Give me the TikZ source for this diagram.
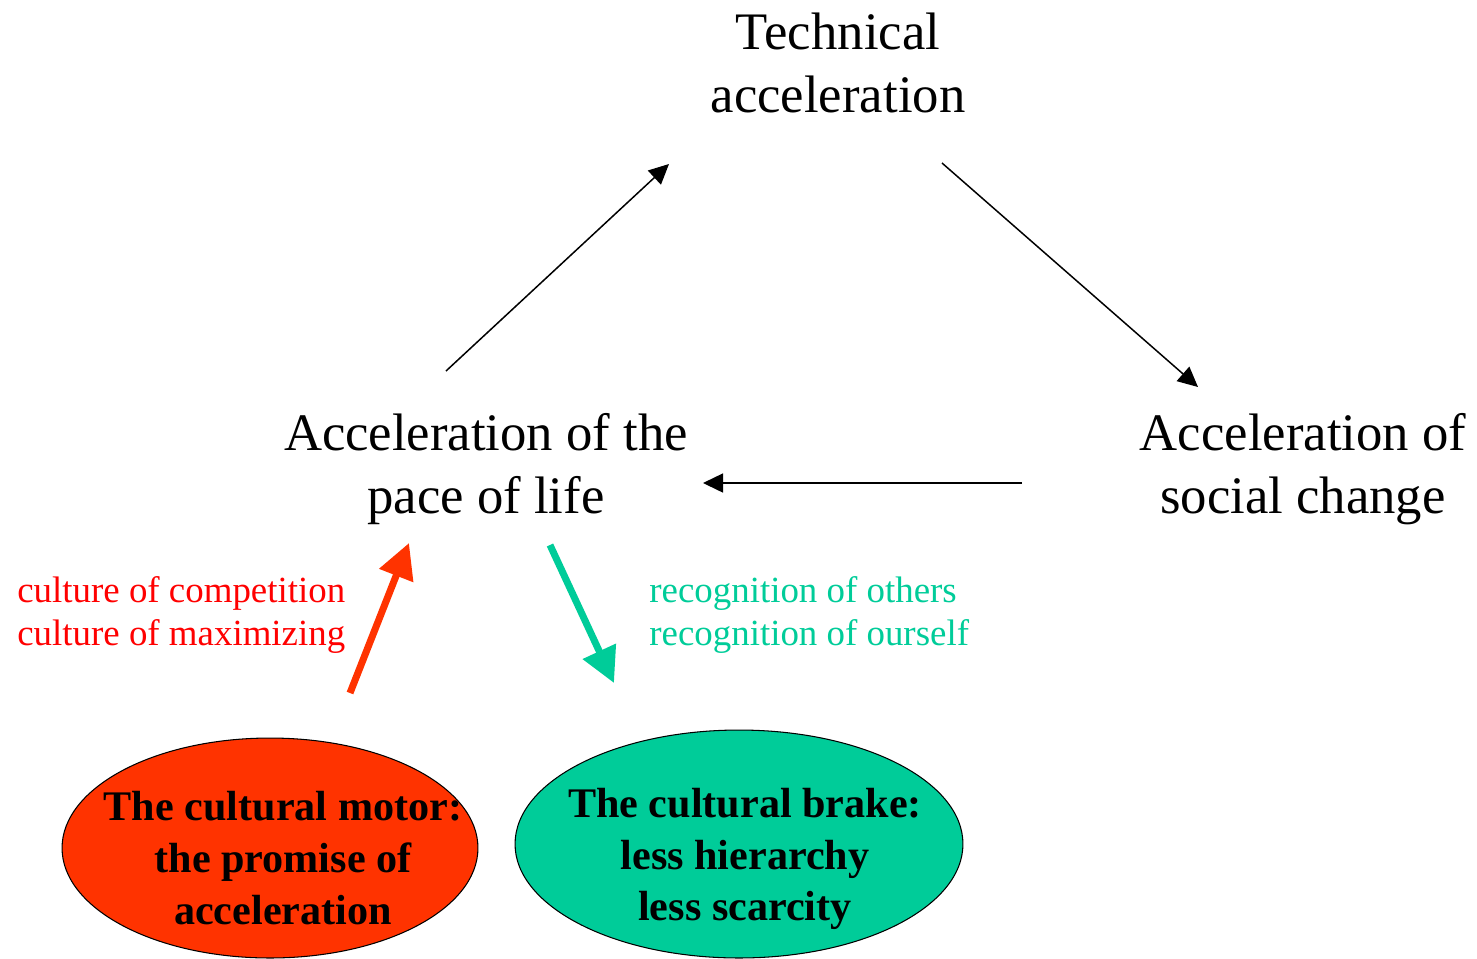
\documentclass[tikz,border=0pt]{standalone}
\usepackage{fontspec}
\setmainfont{Liberation Serif}
\usetikzlibrary{arrows.meta,shapes.geometric}
\definecolor{motorred}{HTML}{FF3300}
\definecolor{labelred}{HTML}{FF0000}
\definecolor{brakegreen}{HTML}{00CC99}
\newcommand{\thinwidth}{0.03cm}
\newcommand{\thickwidth}{0.14cm}
\tikzset{
  bigtext/.style={align=center, inner sep=0pt, font=\fontsize{30}{36}\selectfont},
  sidetext/.style={align=left, inner sep=0pt, anchor=west, font=\fontsize{21}{25}\selectfont},
  cultureblob/.style={ellipse, draw, line width=0.6pt, inner sep=0pt},
  blobtext/.style={align=center, inner sep=0pt, font=\fontsize{24}{29.5}\selectfont\bfseries},
  thinarrow/.style={-{Triangle[length=0.4cm,width=0.38cm]}, line width=\thinwidth},
  thickarrow/.style={-{Triangle[length=0.7cm,width=0.7cm]}, line width=\thickwidth},
}

\begin{document}
\begin{tikzpicture}[x=0.02cm, y=-0.02cm]
\useasboundingbox (0,0) rectangle (1477,958);
% the three accelerations
\node[bigtext] (tech) at (838,63) {Technical\\acceleration};
\node[bigtext] (pace) at (486,469) {Acceleration of the\\pace of life};
\node[bigtext] (social) at (1303,469) {Acceleration of\\social change};
% labels beside the coloured arrows
\node[sidetext, text=labelred] (competition) at (17,615) {culture of competition\\culture of maximizing};
\node[sidetext, text=brakegreen] (recognition) at (649,615) {recognition of others\\recognition of ourself};
% motor and brake
\node[cultureblob, fill=motorred, minimum width=8.32cm, minimum height=4.4cm,
  label={[blobtext, xshift=0.26cm, yshift=-0.2cm]center:The cultural motor:\\the promise of\\acceleration}] (motor) at (270,848) {};
\node[cultureblob, fill=brakegreen, minimum width=8.96cm, minimum height=4.56cm,
  label={[blobtext, xshift=0.12cm, yshift=-0.3cm]center:The cultural brake:\\less hierarchy\\less scarcity}] (brake) at (739,844) {};
% arrow ends
\coordinate (pace-up) at (446,371);
\coordinate (tech-in) at (669,164);
\coordinate (tech-out) at (942,163);
\coordinate (social-in) at (1198,387);
\coordinate (social-out) at (1022,483);
\coordinate (pace-in) at (703,483);
\coordinate (motor-out) at (350,693);
\coordinate (pace-low) at (409,543);
\coordinate (pace-down) at (550,545);
\coordinate (brake-in) at (614,683);
% cycle
\draw[thinarrow] (pace-up) -- (tech-in);
\draw[thinarrow] (tech-out) -- (social-in);
\draw[thinarrow] (social-out) -- (pace-in);
% motor pushes, brake slows
\draw[thickarrow, motorred] (motor-out) -- (pace-low);
\draw[thickarrow, brakegreen] (pace-down) -- (brake-in);
\end{tikzpicture}
\end{document}
